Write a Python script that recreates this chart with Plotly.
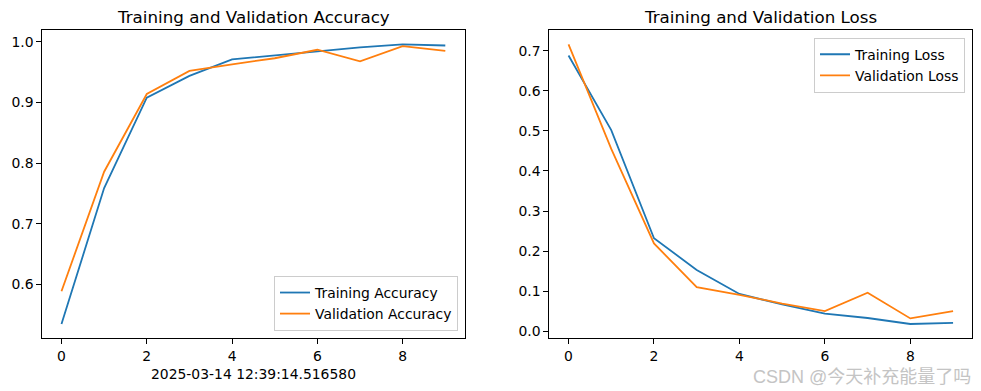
import plotly.graph_objects as go

epochs = list(range(10))
train_acc = [0.535, 0.759, 0.908, 0.944, 0.971, 0.978, 0.985, 0.991, 0.996, 0.994]
val_acc = [0.589, 0.786, 0.914, 0.952, 0.963, 0.973, 0.987, 0.968, 0.993, 0.985]
train_loss = [0.688, 0.502, 0.232, 0.153, 0.093, 0.067, 0.044, 0.033, 0.018, 0.021]
val_loss = [0.716, 0.455, 0.219, 0.110, 0.091, 0.069, 0.050, 0.096, 0.032, 0.050]

acc_yticks = [0.6, 0.7, 0.8, 0.9, 1.0]
loss_yticks = [0.0, 0.1, 0.2, 0.3, 0.4, 0.5, 0.6, 0.7]
xticks = [0, 2, 4, 6, 8]

timestamp = "2025-03-14 12:39:14.516580"
watermark = "CSDN @今天补充能量了吗"

BLUE = "#1f77b4"
ORANGE = "#ff7f0e"
FONT = "DejaVu Sans"
FS = 13.9
TFS = 16.7

W, H = 981, 391


def padded(vals, frac=0.05):
    lo, hi = min(vals), max(vals)
    d = (hi - lo) * frac
    return [lo - d, hi + d]


fig = go.Figure()
fig.add_trace(go.Scatter(x=epochs, y=train_acc, mode="lines", name="Training Accuracy",
                         line=dict(color=BLUE, width=1.8), xaxis="x", yaxis="y", legend="legend"))
fig.add_trace(go.Scatter(x=epochs, y=val_acc, mode="lines", name="Validation Accuracy",
                         line=dict(color=ORANGE, width=1.8), xaxis="x", yaxis="y", legend="legend"))
fig.add_trace(go.Scatter(x=epochs, y=train_loss, mode="lines", name="Training Loss",
                         line=dict(color=BLUE, width=1.8), xaxis="x2", yaxis="y2", legend="legend2"))
fig.add_trace(go.Scatter(x=epochs, y=val_loss, mode="lines", name="Validation Loss",
                         line=dict(color=ORANGE, width=1.8), xaxis="x2", yaxis="y2", legend="legend2"))

ax_common = dict(showline=True, linecolor="black", linewidth=1, mirror=True,
                 ticks="outside", ticklen=5, tickwidth=1, tickcolor="black",
                 showgrid=False, zeroline=False,
                 tickfont=dict(family=FONT, size=FS, color="black"))

y_top = 1 - 30.3 / H
y_bot = 1 - 338 / H
x1d = [42.3 / W, 464.5 / W]
x2d = [549.3 / W, 972.3 / W]

fig.update_layout(
    width=W, height=H, autosize=False,
    margin=dict(l=0, r=0, t=0, b=0),
    paper_bgcolor="white", plot_bgcolor="white",
    font=dict(family=FONT, size=FS, color="black"),
    xaxis=dict(domain=x1d, anchor="y", range=padded(epochs), tickvals=xticks, **ax_common),
    yaxis=dict(domain=[y_bot, y_top], anchor="x", range=padded(train_acc + val_acc),
               tickvals=acc_yticks, tickformat=".1f", **ax_common),
    xaxis2=dict(domain=x2d, anchor="y2", range=padded(epochs), tickvals=xticks, **ax_common),
    yaxis2=dict(domain=[y_bot, y_top], anchor="x2", range=padded(train_loss + val_loss),
                tickvals=loss_yticks, tickformat=".1f", **ax_common),
    legend=dict(x=458 / W, y=1 - 331 / H, xanchor="right", yanchor="bottom",
                bgcolor="rgba(255,255,255,0.8)", bordercolor="#cccccc", borderwidth=1,
                font=dict(family=FONT, size=FS, color="black"), tracegroupgap=0,
                itemwidth=30),
    legend2=dict(x=965 / W, y=1 - 37.7 / H, xanchor="right", yanchor="top",
                 bgcolor="rgba(255,255,255,0.8)", bordercolor="#cccccc", borderwidth=1,
                 font=dict(family=FONT, size=FS, color="black"), tracegroupgap=0,
                 itemwidth=30),
    showlegend=True,
    annotations=[
        dict(text="Training and Validation Accuracy", xref="paper", yref="paper",
             x=(x1d[0] + x1d[1]) / 2, y=1 - 17 / H, xanchor="center", yanchor="middle",
             showarrow=False, font=dict(family=FONT, size=TFS, color="black")),
        dict(text="Training and Validation Loss", xref="paper", yref="paper",
             x=(x2d[0] + x2d[1]) / 2, y=1 - 17 / H, xanchor="center", yanchor="middle",
             showarrow=False, font=dict(family=FONT, size=TFS, color="black")),
        dict(text=timestamp, xref="paper", yref="paper",
             x=(x1d[0] + x1d[1]) / 2, y=1 - 374 / H, xanchor="center", yanchor="middle",
             showarrow=False, font=dict(family=FONT, size=FS, color="black")),
        dict(text=watermark, xref="paper", yref="paper",
             x=973 / W, y=1 - 377 / H, xanchor="right", yanchor="middle",
             showarrow=False, font=dict(family="Liberation Sans, Noto Sans CJK SC", size=18, color="#c4c4c4")),
    ],
)

fig.write_html("out.html", config={"displayModeBar": False, "staticPlot": True},
               post_script="document.body.style.margin='0';document.body.style.overflow='hidden';")
